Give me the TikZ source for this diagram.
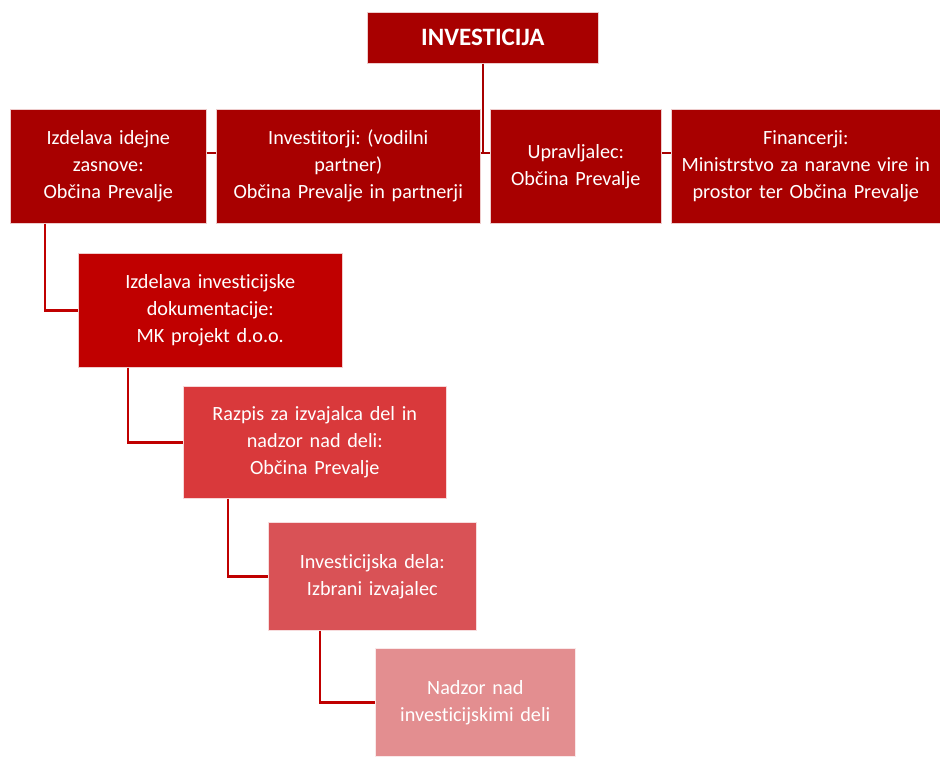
\documentclass[tikz,border=0pt]{standalone}
\usepackage{fontspec}
\setmainfont{Carlito}[Ligatures=NoCommon, WordSpace=0.8]
\usetikzlibrary{calc, positioning}
\definecolor{darkred}{RGB}{168,0,0}
\definecolor{midred}{RGB}{192,0,0}
\definecolor{lightred}{RGB}{217,57,59}
\definecolor{palered}{RGB}{217,82,86}
\definecolor{pinkred}{RGB}{227,142,144}
\frenchspacing

\begin{document}
\begin{tikzpicture}[x=1pt, y=-1pt,
	box/.style={anchor=north west, inner sep=2pt, align=center, text=white, font=\fontsize{20.2}{27}\selectfont, draw=white!80!#1, line width=0.6pt, fill=#1},
	link/.style={line width=2.5pt}]
	\useasboundingbox (0,0) rectangle (940,756);
	\node[box=darkred, minimum width=231pt, minimum height=51pt, font=\fontsize{25}{28}\selectfont\bfseries] (investicija) at (367,12) {INVESTICIJA};
	\node[box=darkred, minimum width=196pt, minimum height=114pt, text width=190pt] (idejne) at (10,109) {Izdelava idejne\\zasnove:\\Občina Prevalje};
	\node[box=darkred, minimum width=264pt, minimum height=114pt, text width=258pt] (investitor) at (216,109) {Investitorji: (vodilni\\partner)\\Občina Prevalje in partnerji};
	\node[box=darkred, minimum width=171pt, minimum height=114pt, text width=165pt] (upravljalec) at (490,109) {Upravljalec:\\Občina Prevalje};
	\node[box=darkred, minimum width=269pt, minimum height=114pt, text width=263pt] (financer) at (671,109) {Financerji:\\Ministrstvo za naravne vire in\\prostor ter Občina Prevalje};
	\node[box=midred, minimum width=264pt, minimum height=114pt, text width=258pt] (dokument) at (78,253) {Izdelava investicijske\\dokumentacije:\\MK projekt d.o.o.};
	\node[box=lightred, minimum width=263pt, minimum height=112pt, text width=257pt] (razpis) at (183,386) {Razpis za izvajalca del in\\nadzor nad deli:\\Občina Prevalje};
	\node[box=palered, minimum width=208pt, minimum height=108pt, text width=202pt] (dela) at (268,522) {Investicijska dela:\\Izbrani izvajalec};
	\node[box=pinkred, minimum width=200pt, minimum height=108pt, text width=194pt] (nadzor) at (375,648) {Nadzor nad\\investicijskimi deli};

	% connectors
	\coordinate (row) at (483,153);
	\draw[link, darkred] (investicija.south) -- (investicija.south |- row);
	\draw[link, darkred] (idejne.east |- row) -- (investitor.west |- row);
	\draw[link, darkred] (investitor.east |- row) -- (upravljalec.west |- row);
	\draw[link, darkred] (upravljalec.east |- row) -- (financer.west |- row);
	\draw[link, midred] ([xshift=35pt]idejne.south west) |- (dokument.west);
	\draw[link, midred] ([xshift=50pt]dokument.south west) |- (razpis.west);
	\draw[link, midred] ([xshift=45pt]razpis.south west) |- (dela.west);
	\draw[link, midred] ([xshift=52pt]dela.south west) |- (nadzor.west);
\end{tikzpicture}
\end{document}
